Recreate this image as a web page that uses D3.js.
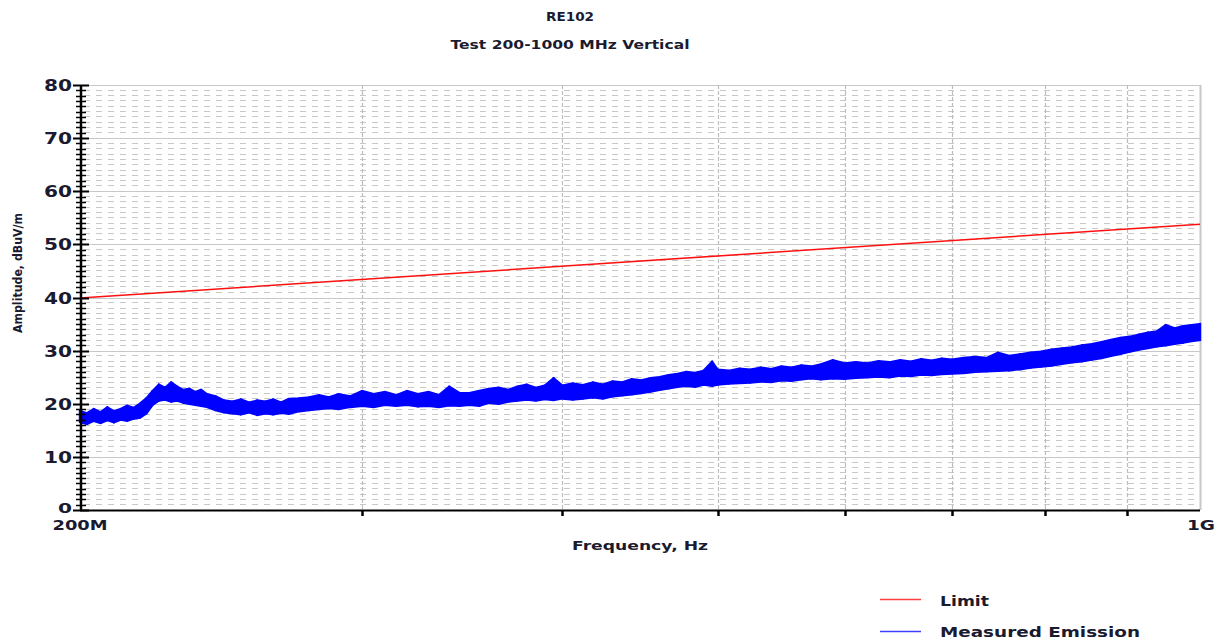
<!DOCTYPE html>
<html><head><meta charset="utf-8">
<script src="https://cdn.jsdelivr.net/npm/d3@7"></script>
<style>body{margin:0;background:#fff}svg{display:block}</style>
</head><body><svg id="c" width="1218" height="640"></svg>
<script>
const yTicks = [0,10,20,30,40,50,60,70,80];
const xGridFreqs = [300,400,500,600,700,800,900];
const xTickLabels = [{f:200,t:"200M"},{f:1000,t:"1G"}];
const limitFreq = [200, 1000];
const limitVal = [39.9, 53.8];
const emFreq = [200,202,204,206,208,210,212,214,216,218,220,222,224,226,228,230,232,234,236,238,240,
 243,246,249,252,255,258,261,264,267,270,274,278,282,286,290,295,300,305,310,315,320,325,330,335,340,345,
 350,355,360,365,370,375,380,385,390,395,400,406,412,418,424,430,436,442,448,454,460,466,472,478,484,490,496,
 500,508,516,524,532,540,548,556,564,572,580,590,600,610,620,630,640,650,660,670,680,690,700,712,724,736,748,
 760,772,784,796,808,820,832,844,856,868,880,892,904,916,928,940,952,964,976,988,1000];
const emLow = [16.6,16.2,16.8,16.4,16.9,16.5,17.0,16.8,17.2,17.4,18.2,19.8,20.6,20.8,20.4,20.6,20.2,20.0,19.8,19.6,19.4,
 18.8,18.4,18.2,18.0,18.4,17.9,18.2,18.0,18.3,18.1,18.6,18.8,19.0,19.2,19.0,19.4,19.6,19.4,19.8,19.6,19.8,19.5,19.6,19.4,19.7,19.6,
 19.8,19.6,20.2,20.0,20.4,20.6,20.8,20.6,20.9,20.7,21.0,20.8,21.0,21.2,21.0,21.4,21.6,21.8,22.0,22.3,22.6,22.9,23.2,23.4,23.2,23.6,23.4,
 23.6,23.8,23.9,24.0,24.2,24.1,24.4,24.3,24.6,24.8,24.6,24.8,24.7,24.9,25.0,25.1,25.0,25.3,25.2,25.5,25.4,25.6,25.7,25.8,26.0,26.1,26.2,
 26.3,26.5,26.8,27.0,27.2,27.5,27.8,28.0,28.3,28.6,29.0,29.4,29.8,30.2,30.5,30.8,31.0,31.3,31.5,31.8,32.0];
const emHigh = [18.6,18.2,19.0,18.4,19.3,18.6,19.0,19.6,19.2,20.0,21.0,22.4,23.6,23.0,24.0,23.2,22.6,22.8,22.2,22.6,21.8,
 21.4,20.6,20.4,20.8,20.2,20.6,20.4,20.8,20.2,20.9,21.0,21.2,21.6,21.2,21.8,21.4,22.4,21.8,22.2,21.6,22.4,21.8,22.2,21.6,23.2,22.0,
 22.0,22.4,22.8,23.0,22.6,23.2,23.6,23.0,23.4,24.8,23.4,23.8,23.5,24.0,23.6,24.2,24.0,24.6,24.4,24.8,25.0,25.4,25.6,26.0,25.8,26.2,27.9,
 26.4,26.2,26.6,26.4,26.8,26.5,27.0,26.8,27.2,27.0,27.4,28.2,27.6,27.8,27.6,28.0,27.8,28.2,27.9,28.4,28.1,28.5,28.3,28.6,28.8,28.6,29.6,
 29.0,29.3,29.6,29.8,30.2,30.4,30.6,31.0,31.2,31.6,32.0,32.4,32.6,33.0,33.4,33.6,34.8,34.2,34.6,34.8,35.0];

const svg = d3.select("#c");
const L=80, R=1200, T=85, B=510;
const x = d3.scaleLog().domain([200,1000]).range([L,R]);
const y = d3.scaleLinear().domain([0,80]).range([B,T]);
const grid = "#c8c8c8", txt = "#1a1a30", font = "'DejaVu Sans', Verdana, sans-serif";

// minor horizontal dashed grid
const minors = d3.range(0,81).filter(v => v%10 !== 0);
svg.append("g").selectAll("line").data(minors).join("line")
  .attr("x1",L+4).attr("x2",R).attr("y1",d=>y(d)).attr("y2",d=>y(d))
  .attr("stroke",grid).attr("stroke-width",1).attr("stroke-dasharray","6,6")
  .attr("shape-rendering","crispEdges");
// major horizontal solid
svg.append("g").selectAll("line").data(yTicks.filter(v=>v>0)).join("line")
  .attr("x1",L).attr("x2",R).attr("y1",d=>Math.round(y(d))+0.5).attr("y2",d=>Math.round(y(d))+0.5)
  .attr("stroke",grid).attr("stroke-width",1.2);
// vertical dashed grid
svg.append("g").selectAll("line").data(xGridFreqs).join("line")
  .attr("x1",d=>Math.round(x(d))+0.5).attr("x2",d=>Math.round(x(d))+0.5).attr("y1",T).attr("y2",B)
  .attr("stroke","#bdbdbd").attr("stroke-width",1.2).attr("stroke-dasharray","4,2");
// right border
svg.append("line").attr("x1",R+0.5).attr("x2",R+0.5).attr("y1",T).attr("y2",B)
  .attr("stroke",grid).attr("stroke-width",2);

// limit line
const limData = limitFreq.map((f,i)=>[f,limitVal[i]]);
svg.append("path").datum(limData)
  .attr("d", d3.line().x(d=>x(d[0])).y(d=>y(d[1])))
  .attr("fill","none").attr("stroke","#ff1010").attr("stroke-width",1.6);

// emission band
const em = emFreq.map((f,i)=>({f, lo:emLow[i], hi:emHigh[i]}));
svg.append("path").datum(em)
  .attr("d", d3.area().x(d=>x(d.f)).y0(d=>y(d.lo)).y1(d=>y(d.hi)))
  .attr("fill","#0000ff").attr("stroke","#0000ff").attr("stroke-width",2.4).attr("stroke-linejoin","miter");
// vertical sample strokes
svg.append("g").selectAll("line").data(em).join("line")
  .attr("x1",d=>x(d.f)).attr("x2",d=>x(d.f)).attr("y1",d=>y(d.lo)+1).attr("y2",d=>y(d.hi)-1)
  .attr("stroke","#0000ff").attr("stroke-width",2);

// y axis
const yAxis = svg.append("g");
yAxis.append("line").attr("x1",L+1).attr("x2",L+1).attr("y1",T).attr("y2",B)
  .attr("stroke","#000").attr("stroke-width",2.5);
yAxis.selectAll("line.mn").data(d3.range(0,81)).join("line").attr("class","mn")
  .attr("x1",d=>d%10===0?L-7:L-4).attr("x2",d=>d%10===0?L+9:L+6)
  .attr("y1",d=>Math.round(y(d))+0.5).attr("y2",d=>Math.round(y(d))+0.5)
  .attr("stroke","#000").attr("stroke-width",d=>d%10===0?2:1.5);
yAxis.selectAll("text").data(yTicks).join("text")
  .attr("x",72).attr("y",d=>y(d)+(d===0?3:6)).attr("text-anchor","end")
  .attr("font-family",font).attr("font-weight","bold").attr("font-size",d=>d===0?14:15)
  .attr("textLength",d=>d===0?14:28).attr("lengthAdjust","spacingAndGlyphs")
  .attr("fill",txt).text(d=>d);

// x axis
svg.append("line").attr("x1",L).attr("x2",R).attr("y1",B+0.5).attr("y2",B+0.5)
  .attr("stroke","#000").attr("stroke-width",2);
svg.append("g").selectAll("line").data(xGridFreqs).join("line")
  .attr("x1",d=>Math.round(x(d))+0.5).attr("x2",d=>Math.round(x(d))+0.5).attr("y1",B).attr("y2",B+6)
  .attr("stroke","#000").attr("stroke-width",2.5);
svg.append("g").selectAll("text").data(xTickLabels).join("text")
  .attr("x",d=>x(d.f)+(d.f===1000?1:0)).attr("y",530).attr("text-anchor","middle")
  .attr("font-family",font).attr("font-weight","bold").attr("font-size",14)
  .attr("textLength",d=>d.f===1000?28:55).attr("lengthAdjust","spacingAndGlyphs")
  .attr("fill",txt).text(d=>d.t);

// titles
function label(t,xp,yp,sz,len,anchor,rot){
  const e = svg.append("text").attr("x",xp).attr("y",yp).attr("text-anchor",anchor||"middle")
   .attr("font-family",font).attr("font-weight","bold").attr("font-size",sz)
   .attr("textLength",len).attr("lengthAdjust","spacingAndGlyphs").attr("fill",txt).text(t);
  if(rot) e.attr("transform",`rotate(-90,${xp},${yp})`);
  return e;
}
label("RE102",570,21,13,48);
label("Test 200-1000 MHz Vertical",570,49,12,239);
label("Frequency, Hz",640,550,13,136);
label("Amplitude, dBuV/m",22,273,12,120,"middle",true);

// legend
svg.append("line").attr("x1",880).attr("x2",921).attr("y1",599.5).attr("y2",599.5).attr("stroke","#ff4040").attr("stroke-width",1.5);
svg.append("line").attr("x1",880).attr("x2",921).attr("y1",631.5).attr("y2",631.5).attr("stroke","#4040ff").attr("stroke-width",1.5);
label("Limit",940,606,14,49,"start");
label("Measured Emission",940,637,14,200,"start");
</script></body></html>
